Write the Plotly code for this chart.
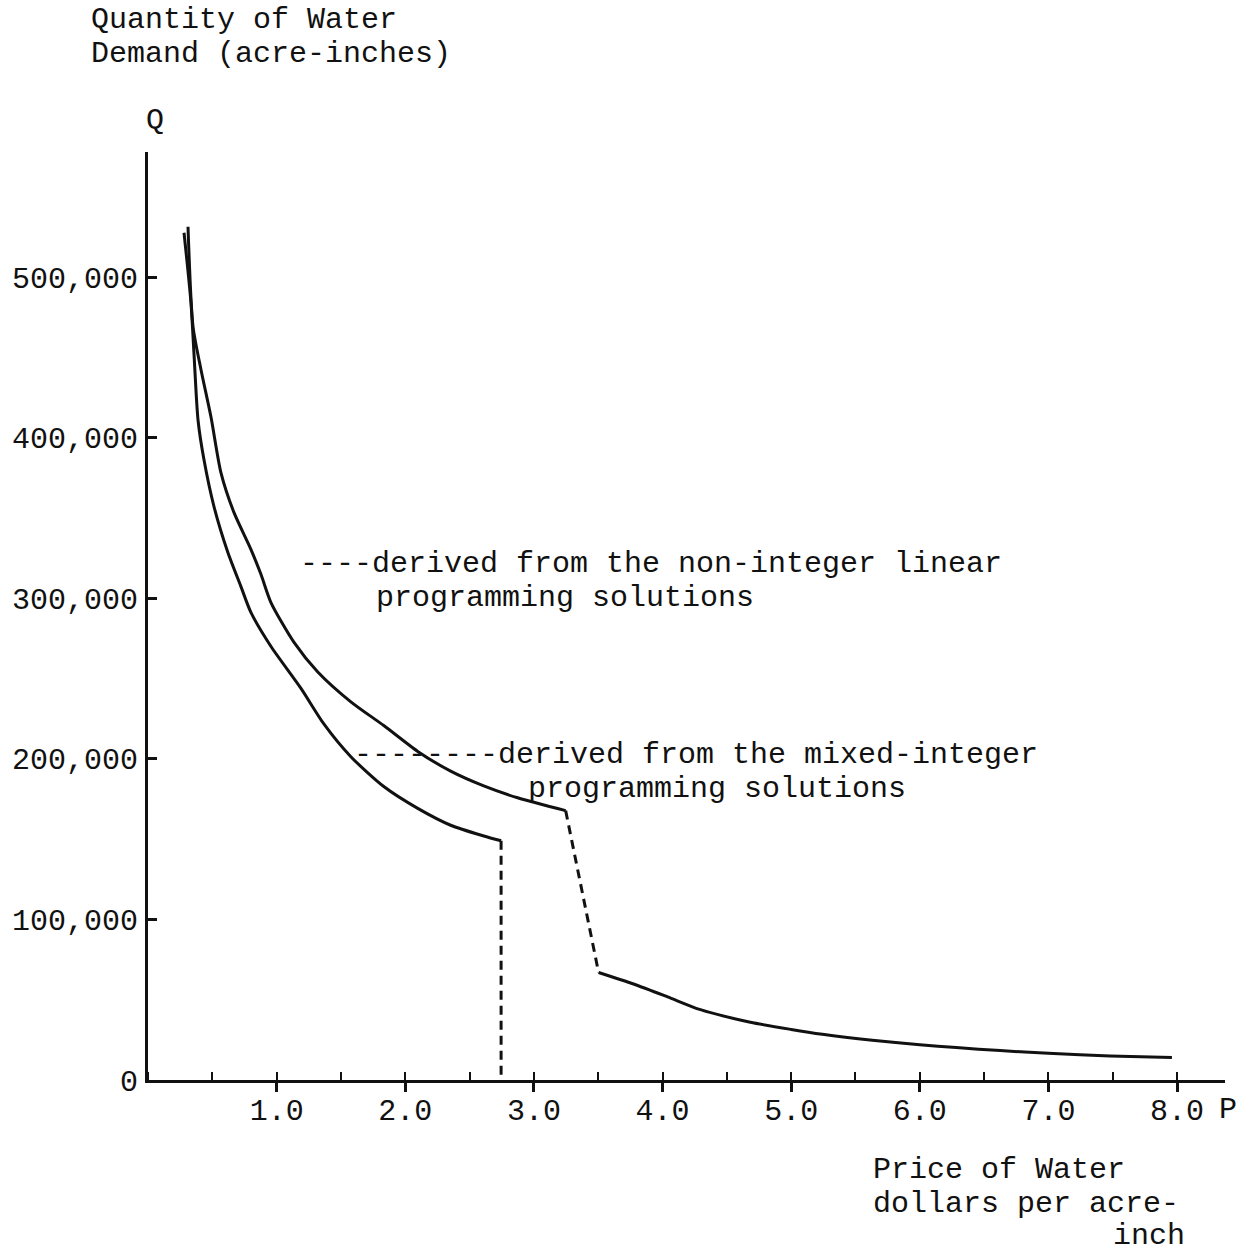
import plotly.graph_objects as go

# ---------------- data ----------------
# Mixed-integer programming solutions (lower curve, drops to zero)
P_mixed = [0.280, 0.334, 0.357, 0.389, 0.435, 0.513, 0.621, 0.722, 0.800,
           0.955, 1.188, 1.367, 1.577, 1.833, 2.097, 2.353, 2.610, 2.745]
Q_mixed = [527800, 484300, 453100, 411000, 386500, 357200, 328600, 307500,
           291300, 270200, 244100, 221800, 201400, 182800, 169200, 158700,
           152000, 149000]

# Non-integer linear programming solutions (upper curve), before the step
P_lp_hi = [0.311, 0.350, 0.412, 0.489, 0.567, 0.668, 0.800, 0.878, 0.955,
           1.134, 1.320, 1.577, 1.833, 2.097, 2.353, 2.610, 2.874, 3.247]
Q_lp_hi = [531500, 469300, 442500, 413300, 378400, 353600, 330600, 315000,
           297600, 272800, 254200, 235600, 220800, 204700, 192400, 183200,
           175800, 167800]

# Non-integer linear programming solutions, after the step
P_lp_lo = [3.503, 3.775, 4.039, 4.295, 4.683, 5.000, 5.243, 5.631, 6.000,
           6.283, 6.625, 7.000, 7.480, 7.960]
Q_lp_lo = [67000, 59800, 51800, 43800, 36000, 31500, 28500, 24800, 22000,
           20200, 18300, 16600, 15000, 14000]

x_ticks = [1, 2, 3, 4, 5, 6, 7, 8]
x_tick_labels = ["1.0", "2.0", "3.0", "4.0", "5.0", "6.0", "7.0", "8.0"]
y_ticks = [0, 100000, 200000, 300000, 400000, 500000]
y_tick_labels = ["0", "100,000", "200,000", "300,000", "400,000", "500,000"]

# ---------------- layout geometry ----------------
W, H = 1246, 1255
L, R, T, B = 148, 21, 152, 175
X_MAX = (W - R - 147) / 128.75
Y_MAX = 578100

FONT = "Liberation Mono, Courier New, monospace"
FS = 30
INK = "#111111"


def px_x(px):
    return (px - L) / (W - L - R)


def px_y(py):
    return (H - B - py) / (H - T - B)


line_style = dict(color=INK, width=3, shape="spline", smoothing=0.7)
dash_style = dict(color=INK, width=3, dash="9px,6px")

fig = go.Figure()
fig.add_trace(go.Scatter(x=P_mixed, y=Q_mixed, mode="lines", line=line_style,
                         hoverinfo="skip"))
fig.add_trace(go.Scatter(x=[P_mixed[-1], P_mixed[-1]], y=[Q_mixed[-1], 0],
                         mode="lines", line=dash_style, hoverinfo="skip"))
fig.add_trace(go.Scatter(x=P_lp_hi, y=Q_lp_hi, mode="lines", line=line_style,
                         hoverinfo="skip"))
fig.add_trace(go.Scatter(x=[P_lp_hi[-1], P_lp_lo[0]], y=[Q_lp_hi[-1], Q_lp_lo[0]],
                         mode="lines", line=dash_style, hoverinfo="skip"))
fig.add_trace(go.Scatter(x=P_lp_lo, y=Q_lp_lo, mode="lines", line=line_style,
                         hoverinfo="skip"))

texts = [
    ("Quantity of Water", 90, 20),
    ("Demand (acre-inches)", 90, 54),
    ("Q", 145, 121),
    ("----derived from the non-integer linear", 299, 564),
    ("programming solutions", 375, 598),
    ("--------derived from the mixed-integer", 353, 755),
    ("programming solutions", 527, 789),
    ("Price of Water", 872, 1170),
    ("dollars per acre-", 872, 1204),
    ("inch", 1112, 1236),
    ("P", 1218, 1110),
]
annotations = [
    dict(text=t, x=px_x(x), y=px_y(y), xref="paper", yref="paper",
         xanchor="left", yanchor="middle", showarrow=False,
         font=dict(family=FONT, size=FS, color=INK), borderpad=0)
    for (t, x, y) in texts
]

fig.update_layout(
    width=W, height=H,
    margin=dict(l=L, r=R, t=T, b=B, autoexpand=False),
    paper_bgcolor="white", plot_bgcolor="white",
    showlegend=False,
    font=dict(family=FONT, size=FS, color=INK),
    annotations=annotations,
    xaxis=dict(
        range=[0, X_MAX], showgrid=False, zeroline=False,
        showline=True, linecolor=INK, linewidth=3,
        tickmode="array", tickvals=x_ticks, ticktext=x_tick_labels,
        ticks="outside", ticklen=9, tickwidth=3, tickcolor=INK,
        minor=dict(ticks="inside", dtick=0.5, tick0=0.5, ticklen=8,
                   tickwidth=2, tickcolor=INK, showgrid=False),
        tickfont=dict(family=FONT, size=FS, color=INK),
        ticklabelstandoff=-8,
    ),
    yaxis=dict(
        range=[0, Y_MAX], showgrid=False, zeroline=False,
        showline=True, linecolor=INK, linewidth=3,
        tickmode="array", tickvals=y_ticks, ticktext=y_tick_labels,
        ticks="inside", ticklen=9, tickwidth=3, tickcolor=INK,
        tickfont=dict(family=FONT, size=FS, color=INK),
        ticklabelstandoff=1,
    ),
)

fig.write_html("out.html")
